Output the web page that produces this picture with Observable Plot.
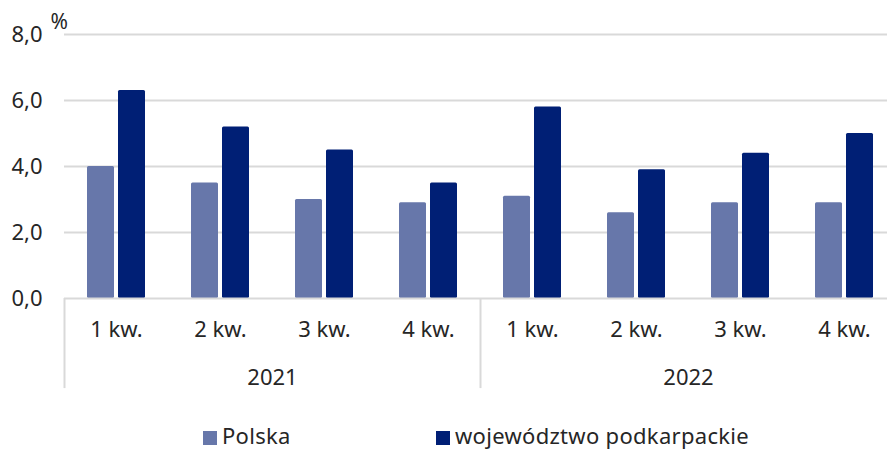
<!DOCTYPE html>
<html>
<head>
<meta charset="utf-8">
<script src="https://cdn.jsdelivr.net/npm/d3@7"></script>
<script src="https://cdn.jsdelivr.net/npm/@observablehq/plot@0.6"></script>
<style>
  html, body { margin: 0; padding: 0; background: #fff; overflow: hidden; width: 887px; height: 450px; }
  #chart { width: 887px; overflow: hidden; }
  #chart svg { display: block; max-width: none !important; }
  #legend { position: relative; height: 30px; font-family: "Noto Sans", sans-serif; font-size: 22px; letter-spacing: 0.3px; color: #262626; }
  .item { position: absolute; top: 0; line-height: 30px; white-space: nowrap; }
  .sw { display: inline-block; width: 14px; height: 14px; margin-right: 5px; vertical-align: -1px; }
</style>
</head>
<body>
<div id="chart"></div>
<div id="legend"></div>
<script>
// Data
const years = ["2021", "2021", "2021", "2021", "2022", "2022", "2022", "2022"];
const quarters = ["1 kw.", "2 kw.", "3 kw.", "4 kw.", "1 kw.", "2 kw.", "3 kw.", "4 kw."];
const polska = [4.0, 3.5, 3.0, 2.9, 3.1, 2.6, 2.9, 2.9];
const podkarpackie = [6.3, 5.2, 4.5, 3.5, 5.8, 3.9, 4.4, 5.0];
const seriesNames = ["Polska", "województwo podkarpackie"];
const seriesColors = ["#6777aa", "#001f75"];
const yTicks = [0, 2, 4, 6, 8];

const rows = quarters.map((q, i) => ({
  key: years[i] + "|" + q, year: years[i], quarter: q,
  polska: polska[i], podk: podkarpackie[i]
}));
const keys = rows.map(d => d.key);
const firstOfYear = rows.filter((d, i) => i === 0 || years[i - 1] !== d.year);
const yearLabels = firstOfYear.map(d => ({key: rows[rows.indexOf(d) + 1].key, year: d.year}));

const W = 896, mL = 64, mR = 0;
const step = (W - mL - mR) / keys.length;
const fmt = d => d.toFixed(1).replace(".", ",");
const grid = "#d9d9d9";

const chart = Plot.plot({
  width: W, height: 420,
  marginLeft: mL, marginRight: mR, marginTop: 34, marginBottom: 122,
  style: {fontFamily: "Noto Sans, sans-serif", fontSize: "22px", color: "#262626", background: "#fff", maxWidth: "none"},
  x: {domain: keys, padding: 0, axis: null},
  y: {domain: [0, 8], axis: null},
  marks: [
    Plot.gridY(yTicks.filter(t => t > 0), {stroke: grid, strokeOpacity: 1, strokeWidth: 2}),
    Plot.axisY(yTicks, {tickSize: 0, tickPadding: 22, tickFormat: fmt, fontSize: 22, fill: "#262626"}),
    Plot.text(["%"], {frameAnchor: "top-left", dx: -14, dy: -12, fontSize: 21, fill: "#262626", textAnchor: "start", lineAnchor: "middle"}),
    Plot.barY(rows, {x: "key", y: "polska", fill: seriesColors[0], insetLeft: 23, insetRight: step - 50, rx: 1.5}),
    Plot.barY(rows, {x: "key", y: "podk", fill: seriesColors[1], insetLeft: 54, insetRight: step - 81, rx: 1.5}),
    Plot.ruleY([0], {stroke: grid, strokeWidth: 2}),
    Plot.ruleX(firstOfYear, {x: "key", y1: 0, y2: -2.73, dx: -step / 2, stroke: grid, strokeWidth: 2}),
    Plot.text(rows, {x: "key", y: 0, text: "quarter", dy: 31, fontSize: 22, fill: "#262626"}),
    Plot.text(yearLabels, {x: "key", y: 0, text: "year", dx: step / 2, dy: 79, fontSize: 22, fill: "#262626"})
  ]
});
document.getElementById("chart").appendChild(chart);

// Legend
const legend = document.getElementById("legend");
const lefts = [203, 436];
seriesNames.forEach((name, i) => {
  const it = document.createElement("div");
  it.className = "item";
  it.style.left = lefts[i] + "px";
  const sw = document.createElement("span");
  sw.className = "sw";
  sw.style.background = seriesColors[i];
  it.appendChild(sw);
  it.appendChild(document.createTextNode(name));
  legend.appendChild(it);
});
</script>
</body>
</html>
